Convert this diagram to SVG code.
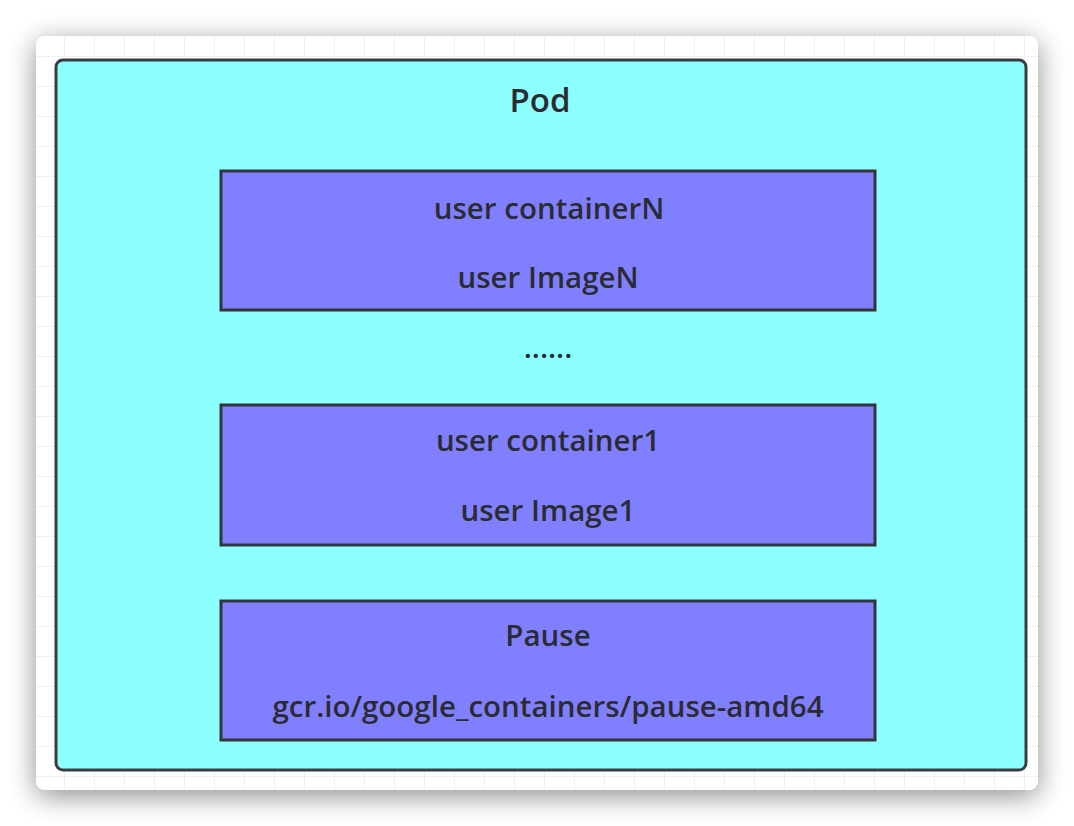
<svg xmlns="http://www.w3.org/2000/svg" width="1074" height="826" viewBox="0 0 1074 826">
<defs>
<filter id="sh" x="-10%" y="-10%" width="120%" height="125%">
<feGaussianBlur in="SourceAlpha" stdDeviation="14"/>
<feOffset dx="0" dy="6"/>
<feComponentTransfer><feFuncA type="linear" slope="0.45"/></feComponentTransfer>
<feMerge><feMergeNode/><feMergeNode in="SourceGraphic"/></feMerge>
</filter>
<pattern id="grid" x="5" y="27" width="30" height="30" patternUnits="userSpaceOnUse">
<path d="M30 0V30M0 30H30" fill="none" stroke="#ececec" stroke-width="1.5"/>
</pattern>
<clipPath id="cardclip"><rect x="36" y="36" width="1002" height="754" rx="9"/></clipPath>
</defs>
<style>
.t{font-family:"Open Sans","Noto Sans","Liberation Sans",sans-serif;font-weight:600;fill:#2b2b33;text-anchor:middle;font-size:29.5px}
.box{fill:#8080ff;stroke:#33353a;stroke-width:3}
</style>
<rect width="1074" height="826" fill="#ffffff"/>
<rect x="36" y="36" width="1002" height="754" rx="9" fill="#ffffff" filter="url(#sh)"/>
<rect x="36" y="36" width="1002" height="754" fill="url(#grid)" clip-path="url(#cardclip)"/>
<g id="pod">
<rect x="56" y="60" width="970" height="710" rx="7" fill="#8cffff" stroke="#3a3d40" stroke-width="3"/>
<text class="t" x="540" y="112" style="font-size:33px">Pod</text>
</g>
<g id="containerN">
<rect class="box" x="221" y="171" width="654" height="139"/>
<text class="t" x="549" y="219">user containerN</text>
<text class="t" x="548" y="288">user ImageN</text>
</g>
<g id="ellipsis">
<text class="t" x="548" y="358">......</text>
</g>
<g id="container1">
<rect class="box" x="221" y="405" width="654" height="140"/>
<text class="t" x="548" y="451">user container1</text>
<text class="t" x="548" y="521">user Image1</text>
</g>
<g id="pause">
<rect class="box" x="221" y="601" width="654" height="139"/>
<text class="t" x="548" y="646">Pause</text>
<text class="t" x="548" y="717">gcr.io/google_containers/pause-amd64</text>
</g>
<g id="connectors"></g>
</svg>
